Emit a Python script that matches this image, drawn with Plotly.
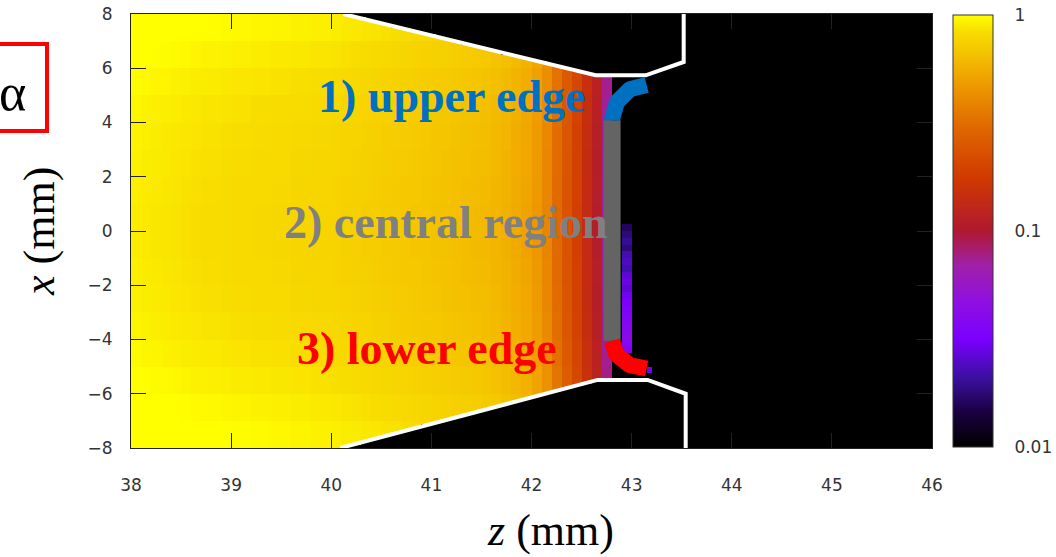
import numpy as np
import plotly.graph_objects as go

# ---------------- data ----------------
# axial profile of the normalised value, one entry per 0.1 mm column (z = 38.05 ... 42.75)
col_z0, col_dz = 38.05, 0.1
axial_profile = [
    0.92, 0.90, 0.89, 0.88, 0.87,
    0.86, 0.85, 0.84, 0.84, 0.83,
    0.82, 0.82, 0.81, 0.81, 0.80,
    0.80, 0.79, 0.79, 0.78, 0.78,
    0.77, 0.76, 0.75, 0.74, 0.73,
    0.72, 0.71, 0.70, 0.69, 0.68,
    0.67, 0.66, 0.65, 0.64, 0.63,
    0.62, 0.60, 0.58, 0.55, 0.52,
    0.47, 0.40, 0.31, 0.24, 0.19,
    0.14, 0.11, 0.07,
]
# transverse brightness factor, one entry per 1 mm band (x = -8..-7, ..., 7..8)
row_factor = [1.20, 1.15, 1.10, 1.06, 1.03, 1.01, 1.00, 0.99,
              0.99, 1.00, 1.01, 1.02, 1.04, 1.07, 1.12, 1.18]
# faint strip just downstream of the electrode, z = 42.9..43.0, 0.25 mm rows from x = 0.25 down
strip_z = 42.95
strip_x_top = 0.25
strip_v = [0.016, 0.018, 0.020, 0.018, 0.022, 0.024, 0.022, 0.026, 0.028, 0.026,
           0.030, 0.032, 0.034, 0.036, 0.038, 0.040, 0.042, 0.040, 0.036]
# isolated spot near the lower edge (z, x, value)
spot_z = [43.175]
spot_x = [-5.125]
spot_v = [0.030]
background_v = 0.01

# nozzle outline (white lines)
upper_z = [40.12, 42.64, 43.14, 43.52, 43.52]
upper_x = [8.0, 5.74, 5.74, 6.23, 8.25]
lower_z = [40.09, 42.66, 43.16, 43.54, 43.54]
lower_x = [-8.0, -5.49, -5.49, -6.00, -8.25]

# electrode regions: arc centre / radii and central segment
elec_z = 42.805
upper_arc = dict(cz=43.15, cx=4.08, rz=0.345, rx=1.30)
lower_arc = dict(cz=43.15, cx=-4.05, rz=0.345, rx=1.02)

# colour bar
cb_ticks = [0.01, 0.1, 1]
cb_ticktext = ["0.01", "0.1", "1"]
minor_ticks = [m * d for d in (0.01, 0.1) for m in range(2, 10)]

# ---------------- build the grid (0.05 mm x 0.125 mm cells) ----------------
dz, dx = 0.05, 0.125
zc = 38.0 + dz / 2 + dz * np.arange(160)
xc = -8.0 + dx / 2 + dx * np.arange(128)
grid = np.full((len(xc), len(zc)), background_v)
up_wall = np.interp(zc, [38.0] + upper_z[:2], [8.0] + upper_x[:2])
lo_wall = np.interp(zc, [38.0] + lower_z[:2], [-8.0] + lower_x[:2])
for j, z in enumerate(zc):
    k = int((z - 38.0) // col_dz)
    if k >= len(axial_profile):
        continue
    for i, x in enumerate(xc):
        if lo_wall[j] < x < up_wall[j]:
            f = row_factor[int((x + 8) // 1)]
            grid[i, j] = min(1.0, axial_profile[k] * f)

def cells(zlo, zhi, xlo, xhi):
    jj = np.where((zc > zlo) & (zc < zhi))[0]
    ii = np.where((xc > xlo) & (xc < xhi))[0]
    return ii, jj

for k, v in enumerate(strip_v):
    xt = strip_x_top - 0.25 * k
    ii, jj = cells(strip_z - 0.05, strip_z + 0.05, xt - 0.25, xt)
    for i in ii:
        grid[i, jj] = v
for sz, sx, sv in zip(spot_z, spot_x, spot_v):
    ii, jj = cells(sz - 0.05, sz + 0.05, sx - 0.1, sx + 0.1)
    for i in ii:
        grid[i, jj] = sv
logz = np.log10(grid)

colorscale = [
    [0.00, "#000000"], [0.08, "#1a0040"], [0.16, "#3a10a0"], [0.25, "#7a00ff"],
    [0.34, "#9010e0"], [0.42, "#a020a8"], [0.50, "#b01830"], [0.62, "#d03800"],
    [0.74, "#e06800"], [0.85, "#f0a000"], [0.92, "#f5c800"], [0.96, "#f8dc00"],
    [1.00, "#ffff00"],
]

L, R, T, B = 131, 124, 14, 109
W, H = 1056, 557
pw, ph = W - L - R, H - T - B

fig = go.Figure()
fig.add_trace(go.Heatmap(
    x=zc, y=xc, z=logz, zmin=-2, zmax=0, colorscale=colorscale,
    hoverinfo="skip",
    colorbar=dict(
        x=(953 - L) / pw, xanchor="left", xpad=0, ypad=0,
        y=0.5, yanchor="middle", len=432, lenmode="pixels",
        thickness=40, thicknessmode="pixels",
        outlinewidth=1, outlinecolor="#333333",
        tickvals=[np.log10(v) for v in cb_ticks], ticktext=cb_ticktext,
        ticks="outside", ticklen=18, tickcolor="rgba(0,0,0,0)",
        tickfont=dict(family="DejaVu Sans", size=17, color="#333333"),
    ),
))

# nozzle outline
for zz, xx in ((upper_z, upper_x), (lower_z, lower_x)):
    fig.add_trace(go.Scatter(x=zz, y=xx, mode="lines", cliponaxis=False,
                             line=dict(color="white", width=4), hoverinfo="skip",
                             showlegend=False))

# electrode regions
def arc(p, a0, a1):
    a = np.radians(np.linspace(a0, a1, 40))
    return p["cz"] + p["rz"] * np.cos(a), p["cx"] + p["rx"] * np.sin(a)

uz, ux = arc(upper_arc, 90, 180)
lz, lx = arc(lower_arc, 180, 270)
fig.add_trace(go.Scatter(x=[elec_z, elec_z], y=[upper_arc["cx"], lower_arc["cx"]],
                         mode="lines", line=dict(color="#646464", width=17),
                         hoverinfo="skip", showlegend=False))
fig.add_trace(go.Scatter(x=uz, y=ux, mode="lines", line=dict(color="#0070c0", width=16),
                         hoverinfo="skip", showlegend=False))
fig.add_trace(go.Scatter(x=lz, y=lx, mode="lines", line=dict(color="#ff0000", width=16),
                         hoverinfo="skip", showlegend=False))

serif = "Liberation Serif"
labels = [("1) upper edge", 41.21, 4.95, "#0070c0"),
          ("2) central region", 41.15, 0.31, "#808080"),
          ("3) lower edge", 40.96, -4.34, "#ff0000")]
for txt, zz, xx, col in labels:
    fig.add_annotation(x=zz, y=xx, text="<b>" + txt + "</b>", showarrow=False,
                       xanchor="center", yanchor="middle",
                       font=dict(family=serif, size=46, color=col))

def px_x(p):
    return (p - L) / pw

def px_y(p):
    return (T + ph - p) / ph

# axis titles and alpha box
fig.add_annotation(xref="paper", yref="paper", x=px_x(550), y=px_y(530),
                   xanchor="center", yanchor="middle",
                   text="<i>z</i> (mm)", showarrow=False,
                   font=dict(family=serif, size=44, color="black"))
fig.add_annotation(xref="paper", yref="paper", x=px_x(40), y=px_y(232),
                   xanchor="center", yanchor="middle",
                   text="<i>x</i> (mm)", showarrow=False, textangle=-90,
                   font=dict(family=serif, size=44, color="black"))
fig.add_shape(type="rect", xref="paper", yref="paper",
              x0=px_x(-10), x1=px_x(47), y0=px_y(131), y1=px_y(44),
              line=dict(color="#ff0000", width=4))
fig.add_annotation(xref="paper", yref="paper", x=px_x(12), y=px_y(92),
                   xanchor="center", yanchor="middle",
                   text="α", showarrow=False,
                   font=dict(family=serif, size=52, color="black"))

# colour bar ticks on both sides
cbx0 = px_x(953)
cbx1 = px_x(993)
tl = 8 / pw
for v in minor_ticks + [0.1]:
    t = (np.log10(v) + 2) / 2
    yp = px_y(447) + t * 432 / ph
    for a, b in ((cbx0, cbx0 + tl), (cbx1 - tl, cbx1)):
        fig.add_shape(type="line", xref="paper", yref="paper", x0=a, x1=b, y0=yp, y1=yp,
                      line=dict(color="#333333", width=1))

tickfont = dict(family="DejaVu Sans", size=17, color="#333333")
fig.update_xaxes(range=[38, 46], dtick=1, tick0=38, ticks="inside", ticklen=15,
                 tickcolor="#222222", showline=True, mirror="ticks", linecolor="#222222",
                 linewidth=1, showgrid=False, zeroline=False, tickfont=tickfont,
                 ticklabelstandoff=22)
fig.update_yaxes(range=[-8, 8], dtick=2, tick0=-8, ticks="inside", ticklen=15,
                 tickcolor="#222222", showline=True, mirror="ticks", linecolor="#222222",
                 linewidth=1, showgrid=False, zeroline=False, tickfont=tickfont,
                 ticklabelstandoff=14)
fig.update_layout(width=W, height=H,
                  margin=dict(l=L, r=R, t=T, b=B, autoexpand=False),
                  paper_bgcolor="white", plot_bgcolor="white", showlegend=False)

fig.write_html("out.html")
